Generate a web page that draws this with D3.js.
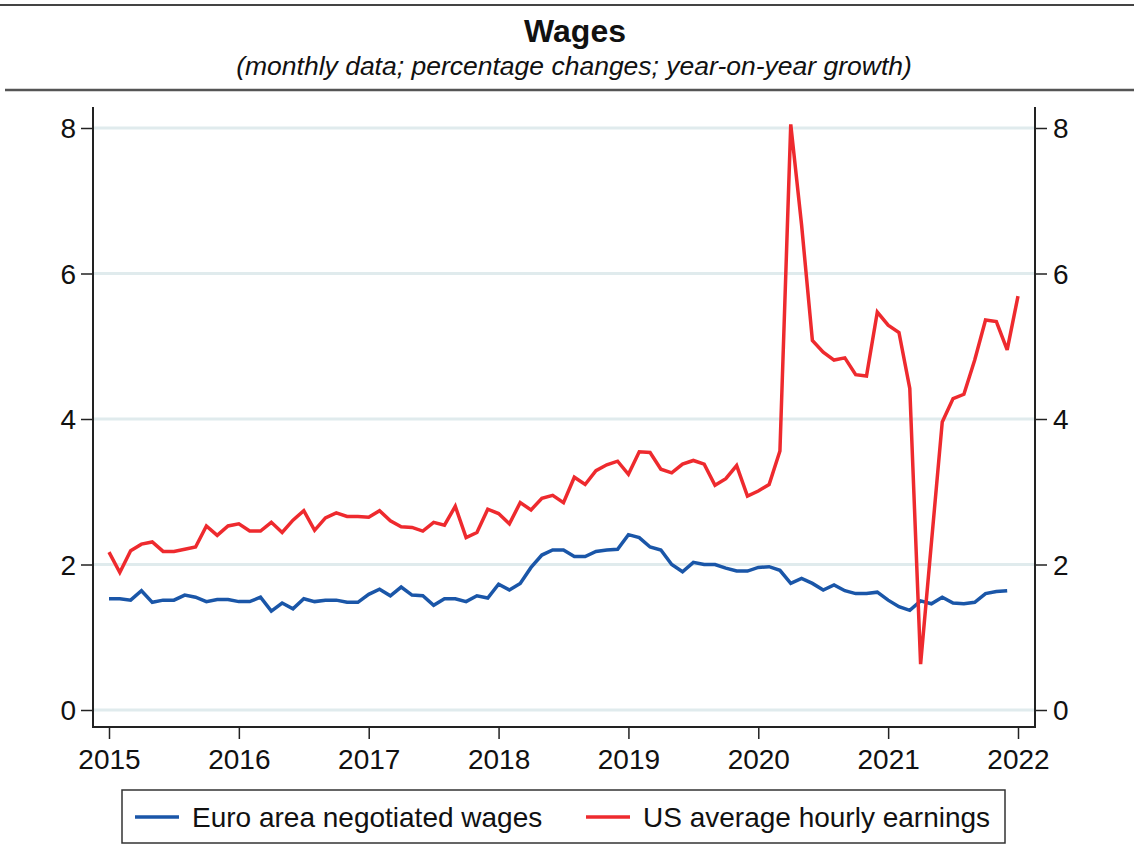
<!DOCTYPE html>
<html><head><meta charset="utf-8">
<script src="https://cdn.jsdelivr.net/npm/d3@7"></script>
<style>
body{margin:0;background:#fff;}
svg{display:block;font-family:"Liberation Sans",Arial,Helvetica,sans-serif;}
</style></head>
<body>
<svg id="chart" width="1134" height="855"></svg>
<script>
const title = "Wages";
const subtitle = "(monthly data; percentage changes; year-on-year growth)";
const startYear = 2015;
const xTicks = [2015, 2016, 2017, 2018, 2019, 2020, 2021, 2022];
const yTicks = [0, 2, 4, 6, 8];
const seriesNames = ["Euro area negotiated wages", "US average hourly earnings"];
const seriesColors = ["#1a56a8", "#ee2a2e"];

// Euro area negotiated wages, Jan 2015 - Dec 2021
const euroWages = [
  1.53, 1.53, 1.51, 1.64, 1.48, 1.51, 1.51, 1.58, 1.55, 1.49, 1.52, 1.52,
  1.49, 1.49, 1.55, 1.36, 1.47, 1.39, 1.53, 1.49, 1.51, 1.51, 1.48, 1.48,
  1.59, 1.66, 1.57, 1.69, 1.58, 1.57, 1.44, 1.53, 1.53, 1.49, 1.57, 1.54,
  1.73, 1.65, 1.74, 1.96, 2.13, 2.20, 2.20, 2.11, 2.11, 2.18, 2.20, 2.21,
  2.41, 2.37, 2.24, 2.20, 2.00, 1.90, 2.03, 2.00, 2.00, 1.95, 1.91, 1.91,
  1.96, 1.97, 1.92, 1.74, 1.81, 1.74, 1.65, 1.72, 1.64, 1.60, 1.60, 1.62,
  1.51, 1.42, 1.37, 1.50, 1.46, 1.55, 1.47, 1.46, 1.48, 1.60, 1.63, 1.64
];
// US average hourly earnings, Jan 2015 - Jan 2022
const usEarnings = [
  2.17, 1.89, 2.19, 2.28, 2.31, 2.18, 2.18, 2.21, 2.24, 2.53, 2.40, 2.53,
  2.56, 2.46, 2.46, 2.58, 2.44, 2.61, 2.74, 2.47, 2.64, 2.71, 2.66, 2.66,
  2.65, 2.74, 2.60, 2.52, 2.51, 2.46, 2.58, 2.54, 2.80, 2.37, 2.44, 2.76,
  2.70, 2.56, 2.85, 2.75, 2.91, 2.95, 2.85, 3.20, 3.10, 3.29, 3.37, 3.42,
  3.24, 3.55, 3.54, 3.31, 3.26, 3.38, 3.43, 3.38, 3.09, 3.18, 3.36, 2.94,
  3.01, 3.10, 3.56, 8.05, 6.67, 5.08, 4.92, 4.81, 4.84, 4.61, 4.59, 5.47,
  5.29, 5.19, 4.42, 0.63, 2.30, 3.96, 4.28, 4.34, 4.81, 5.36, 5.34, 4.95,
  5.69
];

const svg = d3.select("#chart");
const plotL = 93, plotR = 1035, plotT = 107, plotB = 727;
const x = d3.scaleLinear().domain([2015, 2022]).range([109, 1018]);
const y = d3.scaleLinear().domain([0, 8]).range([710, 128]);
const ink = "#222";

// rules
svg.append("line").attr("x1", 0).attr("x2", 1134).attr("y1", 5).attr("y2", 5)
  .attr("stroke", "#444").attr("stroke-width", 2);
svg.append("line").attr("x1", 5).attr("x2", 1134).attr("y1", 90).attr("y2", 90)
  .attr("stroke", "#555").attr("stroke-width", 2.5);

svg.append("text").attr("x", 575).attr("y", 42).attr("text-anchor", "middle")
  .attr("font-weight", "bold").attr("font-size", 32).attr("fill", "#111").text(title);
svg.append("text").attr("x", 574).attr("y", 75).attr("text-anchor", "middle")
  .attr("font-style", "italic").attr("font-size", 26.5).attr("fill", "#111").text(subtitle);

// gridlines
svg.append("g").selectAll("line").data(yTicks).join("line")
  .attr("x1", plotL + 1).attr("x2", plotR - 1)
  .attr("y1", d => y(d)).attr("y2", d => y(d))
  .attr("stroke", "#e0ebed").attr("stroke-width", 3);

// axes
function styleAxis(g) {
  g.select(".domain").remove();
  g.selectAll(".tick line").attr("stroke", ink).attr("stroke-width", 1.5);
  g.selectAll(".tick text").attr("fill", "#111").attr("font-size", 28)
    .attr("font-family", "'Liberation Sans', Arial, sans-serif");
}
const yLeft = svg.append("g").attr("transform", `translate(${plotL},0)`)
  .call(d3.axisLeft(y).tickValues(yTicks).tickSize(12).tickPadding(5).tickFormat(d3.format("d")));
styleAxis(yLeft);
yLeft.selectAll(".tick text").attr("dy", "0.35em");
const yRight = svg.append("g").attr("transform", `translate(${plotR},0)`)
  .call(d3.axisRight(y).tickValues(yTicks).tickSize(12).tickPadding(6).tickFormat(d3.format("d")));
styleAxis(yRight);
yRight.selectAll(".tick text").attr("dy", "0.35em");
const xAxis = svg.append("g").attr("transform", `translate(0,${plotB})`)
  .call(d3.axisBottom(x).tickValues(xTicks).tickSize(12).tickPadding(10).tickFormat(d3.format("d")));
styleAxis(xAxis);

svg.append("line").attr("x1", plotL).attr("x2", plotL).attr("y1", plotT).attr("y2", plotB)
  .attr("stroke", ink).attr("stroke-width", 2);
svg.append("line").attr("x1", plotR).attr("x2", plotR).attr("y1", plotT).attr("y2", plotB)
  .attr("stroke", ink).attr("stroke-width", 2);
svg.append("line").attr("x1", plotL - 1).attr("x2", plotR + 1).attr("y1", plotB).attr("y2", plotB)
  .attr("stroke", ink).attr("stroke-width", 2);

// lines
const line = d3.line().x((d, i) => x(startYear + i / 12)).y(d => y(d)).curve(d3.curveLinear);
[euroWages, usEarnings].forEach((s, k) => {
  svg.append("path").datum(s).attr("d", line).attr("fill", "none")
    .attr("stroke", seriesColors[k]).attr("stroke-width", 3.5)
    .attr("stroke-linejoin", "miter").attr("stroke-miterlimit", 3);
});

// legend
const lg = svg.append("g");
lg.append("rect").attr("x", 122).attr("y", 790).attr("width", 883).attr("height", 53)
  .attr("fill", "#fff").attr("stroke", "#333").attr("stroke-width", 1.5);
const legendPos = [{lx: 135, tx: 192}, {lx: 586, tx: 643}];
seriesNames.forEach((n, k) => {
  lg.append("line").attr("x1", legendPos[k].lx).attr("x2", legendPos[k].lx + 44)
    .attr("y1", 817).attr("y2", 817).attr("stroke", seriesColors[k]).attr("stroke-width", 3.5);
  lg.append("text").attr("x", legendPos[k].tx).attr("y", 827).attr("font-size", 28)
    .attr("fill", "#111").text(n);
});
</script>
</body></html>
